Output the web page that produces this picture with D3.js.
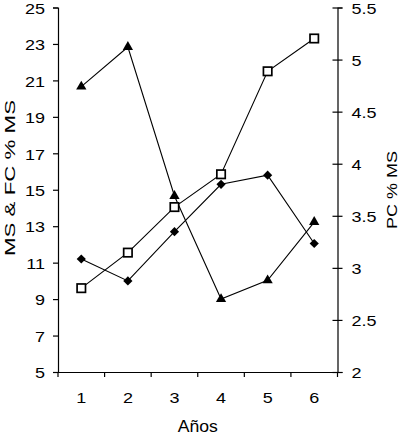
<!DOCTYPE html>
<html><head><meta charset="utf-8">
<script src="https://cdn.jsdelivr.net/npm/d3@7"></script>
<style>body{margin:0;background:#fff}svg{display:block}text{font-family:"Liberation Sans",Arial,sans-serif;fill:#000}</style>
</head><body><svg id="c" width="403" height="436"></svg>
<script>
const years = ["1","2","3","4","5","6"];
const leftTicks = [5,7,9,11,13,15,17,19,21,23,25];
const rightTicks = [2,2.5,3,3.5,4,4.5,5,5.5];
const squareSeries = [9.6, 11.55, 14.05, 15.85, 21.5, 23.3];     // left axis
const diamondSeries = [11.2, 10.0, 12.7, 15.3, 15.8, 12.05];     // left axis
const trianglePC = [4.74, 5.12, 3.69, 2.70, 2.88, 3.44];         // right axis (PC % MS)

const svg = d3.select("#c");
const L = 58, R = 337.5, T = 7.5, B = 372;
const SX = 1.2;
const x = d3.scaleBand().domain(years).range([L, R]);
const yL = d3.scaleLinear().domain([5,25]).range([B, T]);
const yR = d3.scaleLinear().domain([2,5.5]).range([B, T]);
const cx = d => x(d) + x.bandwidth()/2;

const gL = svg.append("g").attr("transform",`translate(${L},0)`)
  .call(d3.axisLeft(yL).tickValues(leftTicks).tickSize(5).tickFormat(d3.format("d")));
const gR = svg.append("g").attr("transform",`translate(${R},0)`)
  .call(d3.axisRight(yR).tickValues(rightTicks).tickSize(5).tickFormat(d => d));
const gB = svg.append("g").attr("transform",`translate(0,${B})`)
  .call(d3.axisBottom(x).tickSize(0));
[gL,gR,gB].forEach(g=>{
  g.select(".domain").attr("stroke","#000").attr("stroke-width",1.2);
  g.selectAll("line").attr("stroke","#000").attr("stroke-width",1.2);
  g.selectAll("text").attr("font-size",15).attr("font-family",'"Liberation Sans",Arial,sans-serif')
    .attr("transform",`scale(${SX},1)`);
});
gL.selectAll(".tick text").attr("x",-13/SX).attr("dy","0.38em");
gR.selectAll(".tick text").attr("x",14/SX).attr("dy","0.38em");
gR.selectAll(".tick line").attr("x1",-5).attr("x2",5);
gB.selectAll(".tick text").attr("y",31).attr("dy",null);

const bTicks = years.map(d=>x(d)).concat([R]);
svg.append("g").selectAll("line").data(bTicks).join("line")
  .attr("x1",d=>d).attr("x2",d=>d).attr("y1",B).attr("y2",B+5)
  .attr("stroke","#000").attr("stroke-width",1.2);

svg.append("text").attr("text-anchor","middle").attr("font-size",16)
  .attr("transform",`translate(${(L+R)/2},432) scale(1.1,1)`).text("Años");
svg.append("text").attr("transform","translate(15,178) rotate(-90)").attr("text-anchor","middle")
  .attr("font-size",15).attr("textLength",156).attr("lengthAdjust","spacingAndGlyphs").text("MS & FC % MS");
svg.append("text").attr("transform","translate(397,190) rotate(-90)").attr("text-anchor","middle")
  .attr("font-size",15).attr("textLength",78).attr("lengthAdjust","spacingAndGlyphs").text("PC % MS");

const line = (ys, vals) => d3.line().x((d,i)=>cx(years[i])).y(d=>ys(d))(vals);
[[squareSeries,yL],[diamondSeries,yL],[trianglePC,yR]].forEach(([v,s])=>{
  svg.append("path").attr("d",line(s,v)).attr("fill","none").attr("stroke","#000").attr("stroke-width",1.1);
});

svg.append("g").selectAll("path").data(trianglePC).join("path")
  .attr("d", d3.symbol().type(d3.symbolTriangle).size(46))
  .attr("transform",(d,i)=>`translate(${cx(years[i])},${yR(d)})`).attr("fill","#000");
svg.append("g").selectAll("path").data(diamondSeries).join("path")
  .attr("d","M0,-4.6L4.6,0L0,4.6L-4.6,0Z")
  .attr("transform",(d,i)=>`translate(${cx(years[i])},${yL(d)})`).attr("fill","#000");
svg.append("g").selectAll("rect").data(squareSeries).join("rect")
  .attr("x",(d,i)=>cx(years[i])-4.2).attr("y",d=>yL(d)-4.2).attr("width",8.4).attr("height",8.4)
  .attr("fill","#fff").attr("stroke","#000").attr("stroke-width",1.7);
</script></body></html>
